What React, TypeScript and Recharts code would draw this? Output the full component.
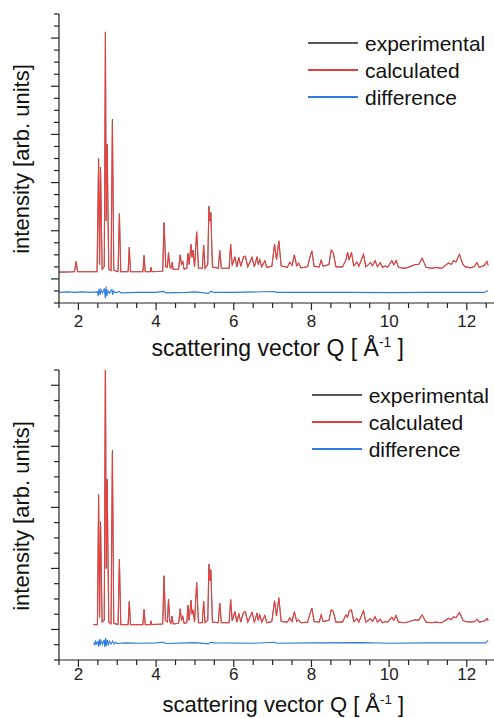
import React from 'react';
import { LineChart, Line, XAxis, YAxis, Legend } from 'recharts';

type Pt = [number, number];

// axis ticks
const xTicks = [1.5, 2, 2.5, 3, 3.5, 4, 4.5, 5, 5.5, 6, 6.5, 7, 7.5, 8, 8.5, 9, 9.5, 10, 10.5, 11, 11.5, 12, 12.5];
const xMajor = [2, 4, 6, 8, 10, 12];
const yTicksTop = [-0.5, -0.25, 0, 0.25, 0.5, 0.75, 1, 1.25, 1.5, 1.75, 2, 2.25, 2.5, 2.75, 3, 3.25, 3.5, 3.75, 4, 4.25, 4.5, 4.75, 5, 5.25, 5.5];
const yTicksBottom = [-0.5, -0.25, 0, 0.25, 0.5, 0.75, 1, 1.25, 1.5, 1.75, 2, 2.25, 2.5, 2.75, 3, 3.25, 3.5, 3.75, 4, 4.25];

// top panel: calculated pattern [Q, intensity]
const calcTop: Pt[] = [
  [1.5, 0.14], [1.9, 0.15], [1.94, 0.36], [1.98, 0.15], [2.48, 0.15], [2.52, 2.5], [2.545, 0.3], [2.57, 2.26],
  [2.61, 0.2], [2.665, 0.25], [2.695, 5.1], [2.715, 1.2], [2.74, 2.8], [2.78, 0.2], [2.84, 0.17], [2.875, 3.25],
  [2.91, 0.18], [3.02, 0.15], [3.055, 1.36], [3.09, 0.15], [3.28, 0.15], [3.31, 0.66], [3.34, 0.15], [3.66, 0.15],
  [3.69, 0.49], [3.72, 0.15], [3.85, 0.15], [3.87, 0.24], [3.89, 0.15], [4.17, 0.16], [4.205, 1.17], [4.25, 0.25],
  [4.29, 0.24], [4.32, 0.55], [4.35, 0.26], [4.38, 0.22], [4.41, 0.35], [4.44, 0.2], [4.58, 0.2], [4.62, 0.5],
  [4.655, 0.3], [4.69, 0.36], [4.72, 0.2], [4.79, 0.22], [4.82, 0.53], [4.85, 0.3], [4.9, 0.72], [4.925, 0.45],
  [4.95, 0.6], [4.99, 0.25], [5.045, 0.98], [5.09, 0.22], [5.19, 0.22], [5.225, 0.7], [5.26, 0.22], [5.33, 0.3],
  [5.36, 1.51], [5.385, 1.2], [5.41, 1.38], [5.45, 0.25], [5.6, 0.22], [5.64, 0.59], [5.68, 0.22], [5.88, 0.22],
  [5.92, 0.72], [5.96, 0.28], [6.03, 0.45], [6.08, 0.25], [6.13, 0.45], [6.18, 0.26], [6.25, 0.46], [6.3, 0.47],
  [6.36, 0.25], [6.47, 0.45], [6.53, 0.25], [6.6, 0.46], [6.63, 0.3], [6.67, 0.4], [6.72, 0.25], [6.8, 0.38],
  [6.85, 0.24], [6.98, 0.26], [7.05, 0.72], [7.1, 0.4], [7.16, 0.79], [7.22, 0.27], [7.38, 0.24], [7.44, 0.35],
  [7.5, 0.28], [7.56, 0.5], [7.62, 0.27], [7.67, 0.33], [7.73, 0.23], [7.9, 0.25], [7.96, 0.45], [8.01, 0.58],
  [8.07, 0.26], [8.2, 0.25], [8.25, 0.39], [8.3, 0.26], [8.45, 0.3], [8.51, 0.6], [8.56, 0.55], [8.63, 0.25],
  [8.8, 0.25], [8.89, 0.4], [8.93, 0.55], [8.97, 0.4], [9.03, 0.55], [9.09, 0.27], [9.17, 0.35], [9.22, 0.26],
  [9.34, 0.51], [9.4, 0.25], [9.52, 0.34], [9.57, 0.27], [9.64, 0.38], [9.7, 0.25], [9.77, 0.34], [9.83, 0.24],
  [9.9, 0.27], [9.96, 0.24], [10.07, 0.38], [10.12, 0.29], [10.18, 0.38], [10.24, 0.24], [10.4, 0.22], [10.52, 0.25],
  [10.67, 0.3], [10.76, 0.3], [10.85, 0.43], [10.95, 0.24], [11.1, 0.22], [11.2, 0.24], [11.35, 0.22], [11.53, 0.33],
  [11.6, 0.3], [11.66, 0.38], [11.72, 0.35], [11.81, 0.51], [11.9, 0.3], [11.96, 0.25], [12.1, 0.23], [12.2, 0.26],
  [12.26, 0.34], [12.32, 0.24], [12.45, 0.28], [12.52, 0.36], [12.55, 0.28],
];
// experimental peak tips that stick out above the calculated curve
const expTipsTop: Pt[] = [[2.57, 2.32], [2.695, 5.13], [2.875, 3.32]];
const diffTop: Pt[] = [
  [1.5, -0.28], [1.7, -0.27], [1.9, -0.28], [2.1, -0.27], [2.3, -0.28], [2.49, -0.27], [2.51, -0.36], [2.53, -0.2],
  [2.56, -0.33], [2.58, -0.22], [2.62, -0.29], [2.67, -0.2], [2.69, -0.4], [2.71, -0.16], [2.73, -0.36], [2.76, -0.24],
  [2.8, -0.3], [2.86, -0.22], [2.88, -0.33], [2.9, -0.25], [2.95, -0.29], [3.05, -0.26], [3.1, -0.29], [3.5, -0.28],
  [4.0, -0.28], [4.2, -0.26], [4.25, -0.29], [4.8, -0.28], [5.0, -0.27], [5.35, -0.3], [5.4, -0.26], [5.5, -0.28],
  [6.0, -0.28], [7.05, -0.26], [7.1, -0.28], [8.0, -0.28], [9.0, -0.28], [10.0, -0.285], [11.0, -0.28], [12.0, -0.28],
  [12.45, -0.28], [12.55, -0.24],
];

// bottom panel
const calcBottom: Pt[] = [
  [2.39, 0.08], [2.49, 0.08], [2.52, 2.21], [2.545, 0.2], [2.57, 1.72], [2.61, 0.12], [2.665, 0.15], [2.695, 4.5],
  [2.715, 1.0], [2.74, 2.46], [2.78, 0.12], [2.84, 0.09], [2.875, 2.9], [2.91, 0.1], [3.02, 0.08], [3.055, 1.15],
  [3.09, 0.08], [3.28, 0.08], [3.31, 0.46], [3.34, 0.08], [3.66, 0.08], [3.69, 0.33], [3.72, 0.08], [3.85, 0.08],
  [3.87, 0.14], [3.89, 0.08], [4.17, 0.09], [4.205, 0.88], [4.24, 0.15], [4.29, 0.12], [4.32, 0.5], [4.35, 0.13],
  [4.38, 0.1], [4.41, 0.22], [4.44, 0.09], [4.58, 0.1], [4.62, 0.34], [4.655, 0.15], [4.69, 0.21], [4.72, 0.1],
  [4.79, 0.11], [4.82, 0.4], [4.85, 0.15], [4.9, 0.48], [4.925, 0.25], [4.95, 0.32], [4.99, 0.12], [5.045, 0.77],
  [5.09, 0.11], [5.19, 0.11], [5.225, 0.46], [5.26, 0.11], [5.33, 0.15], [5.36, 1.07], [5.385, 0.8], [5.41, 0.98],
  [5.45, 0.12], [5.6, 0.11], [5.64, 0.43], [5.68, 0.11], [5.88, 0.11], [5.92, 0.49], [5.96, 0.14], [6.03, 0.29],
  [6.08, 0.12], [6.13, 0.26], [6.18, 0.12], [6.25, 0.28], [6.3, 0.29], [6.36, 0.12], [6.47, 0.28], [6.53, 0.12],
  [6.6, 0.27], [6.63, 0.15], [6.67, 0.24], [6.72, 0.12], [6.8, 0.23], [6.85, 0.11], [6.98, 0.13], [7.05, 0.47],
  [7.1, 0.22], [7.16, 0.52], [7.22, 0.13], [7.38, 0.12], [7.44, 0.19], [7.5, 0.13], [7.56, 0.29], [7.62, 0.13],
  [7.67, 0.16], [7.73, 0.11], [7.9, 0.12], [7.96, 0.25], [8.01, 0.35], [8.07, 0.13], [8.2, 0.12], [8.25, 0.24],
  [8.3, 0.13], [8.45, 0.15], [8.51, 0.32], [8.56, 0.3], [8.63, 0.12], [8.8, 0.12], [8.89, 0.24], [8.93, 0.2],
  [8.97, 0.3], [9.03, 0.32], [9.09, 0.13], [9.17, 0.18], [9.22, 0.12], [9.34, 0.31], [9.4, 0.12], [9.52, 0.18],
  [9.57, 0.13], [9.64, 0.21], [9.7, 0.12], [9.77, 0.17], [9.83, 0.11], [9.9, 0.13], [9.96, 0.12], [10.07, 0.2],
  [10.12, 0.15], [10.18, 0.23], [10.24, 0.12], [10.4, 0.11], [10.52, 0.13], [10.67, 0.16], [10.76, 0.15], [10.85, 0.24],
  [10.95, 0.12], [11.1, 0.11], [11.2, 0.12], [11.35, 0.11], [11.53, 0.18], [11.6, 0.16], [11.66, 0.21], [11.72, 0.19],
  [11.81, 0.28], [11.9, 0.15], [11.96, 0.13], [12.1, 0.12], [12.2, 0.13], [12.26, 0.17], [12.32, 0.12], [12.45, 0.14],
  [12.52, 0.18], [12.55, 0.14],
];
const expTipsBottom: Pt[] = [[2.57, 1.77], [2.695, 4.55], [2.875, 2.94]];
const diffBottom: Pt[] = [
  [2.39, -0.22], [2.42, -0.25], [2.44, -0.18], [2.46, -0.24], [2.5, -0.2], [2.52, -0.28], [2.54, -0.16], [2.56, -0.26],
  [2.58, -0.18], [2.62, -0.24], [2.66, -0.17], [2.68, -0.29], [2.7, -0.14], [2.72, -0.27], [2.74, -0.17], [2.77, -0.25],
  [2.8, -0.19], [2.84, -0.24], [2.88, -0.19], [2.92, -0.24], [2.96, -0.21], [3.0, -0.23], [3.2, -0.22], [3.6, -0.225],
  [4.0, -0.22], [4.2, -0.21], [4.25, -0.23], [4.8, -0.22], [5.0, -0.215], [5.35, -0.235], [5.4, -0.21], [5.5, -0.22],
  [6.5, -0.225], [7.05, -0.21], [7.1, -0.225], [8.0, -0.22], [9.3, -0.215], [10.0, -0.225], [11.0, -0.22], [12.0, -0.22],
  [12.48, -0.22], [12.55, -0.18],
];

const series = [
  { name: 'experimental', color: '#555555' },
  { name: 'calculated', color: '#e4403f' },
  { name: 'difference', color: '#2f7be0' },
];

const FONT = '"Liberation Sans", Arial, Helvetica, sans-serif';
const INK = '#222';

const toRows = (pts: Pt[]) => pts.map(([q, v]) => ({ q, v }));
const withTips = (pts: Pt[], tips: Pt[]) =>
  pts.map(([q, v]) => {
    const t = tips.find((p) => p[0] === q);
    return { q, v: t ? t[1] : v };
  });

const BottomTick = (props: any) => {
  const { x, y, payload, labelDy } = props;
  const major = xMajor.includes(payload.value);
  return (
    <g>
      <line x1={x} x2={x} y1={y} y2={y + (major ? 7 : 5)} stroke={INK} strokeWidth={1.2} />
      {major && (
        <text x={x} y={y + labelDy} textAnchor="middle" fontSize={17} fill={INK} fontFamily={FONT}>
          {payload.value}
        </text>
      )}
    </g>
  );
};

const TopTick = (props: any) => {
  const { x, y, payload } = props;
  const major = xMajor.includes(payload.value);
  return <line x1={x} x2={x} y1={y} y2={y + (major ? 7 : 5)} stroke={INK} strokeWidth={1.2} />;
};

const LeftTick = (props: any) => {
  const { x, y, payload } = props;
  const major = Number.isInteger(payload.value);
  return <line x1={x - (major ? 8 : 5)} x2={x} y1={y} y2={y} stroke={INK} strokeWidth={1.2} />;
};

const LegendBox = () => (
  <div style={{ fontFamily: FONT, fontSize: 21, color: '#111' }}>
    {series.map((s) => (
      <div key={s.name} style={{ display: 'flex', alignItems: 'center', height: 27 }}>
        <span style={{ display: 'inline-block', width: 50, height: 1.5, background: s.color, marginRight: 7 }} />
        <span style={{ lineHeight: 1 }}>{s.name}</span>
      </div>
    ))}
  </div>
);

interface PanelProps {
  height: number;
  plotTop: number;
  plotBottom: number;
  yMax: number;
  yTicks: number[];
  calc: Pt[];
  tips: Pt[];
  diff: Pt[];
  labelDy: number;
  legendTop: number;
  legendLeft: number;
  yTitleCenter: number;
  xTitleTop: number;
  xTitleSize: number;
}

const Panel = (p: PanelProps) => {
  const exp = withTips(p.calc, p.tips);
  return (
    <div style={{ position: 'relative', width: 494, height: p.height }}>
      <LineChart width={494} height={p.height} margin={{ top: p.plotTop, right: 0, bottom: 0, left: 0 }}>
        <XAxis
          xAxisId="b"
          dataKey="q"
          type="number"
          domain={[1.5, 12.7]}
          ticks={xTicks}
          interval={0}
          allowDataOverflow
          orientation="bottom"
          height={p.height - p.plotBottom}
          tickSize={0}
          tickMargin={0}
          tickLine={false}
          axisLine={{ stroke: INK, strokeWidth: 1.2 }}
          tick={(t: any) => <BottomTick {...t} labelDy={p.labelDy} />}
        />
        <XAxis
          xAxisId="t"
          dataKey="q"
          type="number"
          domain={[1.5, 12.7]}
          ticks={xTicks}
          interval={0}
          allowDataOverflow
          orientation="top"
          height={0}
          tickSize={0}
          tickMargin={0}
          tickLine={false}
          axisLine={{ stroke: INK, strokeWidth: 1.2 }}
          tick={TopTick}
        />
        <YAxis
          type="number"
          domain={[-0.5, p.yMax]}
          ticks={p.yTicks}
          interval={0}
          allowDataOverflow
          width={59}
          tickSize={0}
          tickMargin={0}
          tickLine={false}
          axisLine={{ stroke: INK, strokeWidth: 1.2 }}
          tick={LeftTick}
        />
        <Legend
          layout="horizontal"
          verticalAlign="middle"
          align="center"
          wrapperStyle={{ top: p.legendTop, left: p.legendLeft, width: 494 - p.legendLeft }}
          content={() => <LegendBox />}
        />
        <Line xAxisId="b" data={exp} dataKey="v" name="experimental" type="linear" stroke={series[0].color} strokeWidth={0.8} dot={false} activeDot={false} isAnimationActive={false} />
        <Line xAxisId="b" data={toRows(p.calc)} dataKey="v" name="calculated" type="linear" stroke={series[1].color} strokeWidth={1.1} dot={false} activeDot={false} isAnimationActive={false} />
        <Line xAxisId="b" data={toRows(p.diff)} dataKey="v" name="difference" type="linear" stroke={series[2].color} strokeWidth={1.1} dot={false} activeDot={false} isAnimationActive={false} />
      </LineChart>
      <div
        style={{
          position: 'absolute', left: 22, top: p.yTitleCenter, transform: 'translate(-50%, -50%) rotate(-90deg)',
          whiteSpace: 'nowrap', fontFamily: FONT, fontSize: 22, lineHeight: 1, color: '#111',
        }}
      >
        intensity [arb. units]
      </div>
      <div
        style={{
          position: 'absolute', right: 90, top: p.xTitleTop,
          whiteSpace: 'nowrap', fontFamily: FONT, fontSize: p.xTitleSize, lineHeight: 1, color: '#111',
        }}
      >
        scattering vector Q [ Å<sup style={{ fontSize: '0.6em', lineHeight: 0 }}>-1</sup> ]
      </div>
    </div>
  );
};

export default function App() {
  return (
    <div style={{ position: 'absolute', left: 0, top: 0, width: 494, height: 718, background: '#fff' }}>
      <Panel
        height={359} plotTop={14} plotBottom={303} yMax={5.5} yTicks={yTicksTop}
        calc={calcTop} tips={expTipsTop} diff={diffTop} labelDy={24}
        legendTop={29.5} legendLeft={308} yTitleCenter={158.5} xTitleTop={337} xTitleSize={23}
      />
      <Panel
        height={359} plotTop={11} plotBottom={301} yMax={4.25} yTicks={yTicksBottom}
        calc={calcBottom} tips={expTipsBottom} diff={diffBottom} labelDy={20}
        legendTop={22.5} legendLeft={311.7} yTitleCenter={157} xTitleTop={335.4} xTitleSize={22}
      />
    </div>
  );
}
